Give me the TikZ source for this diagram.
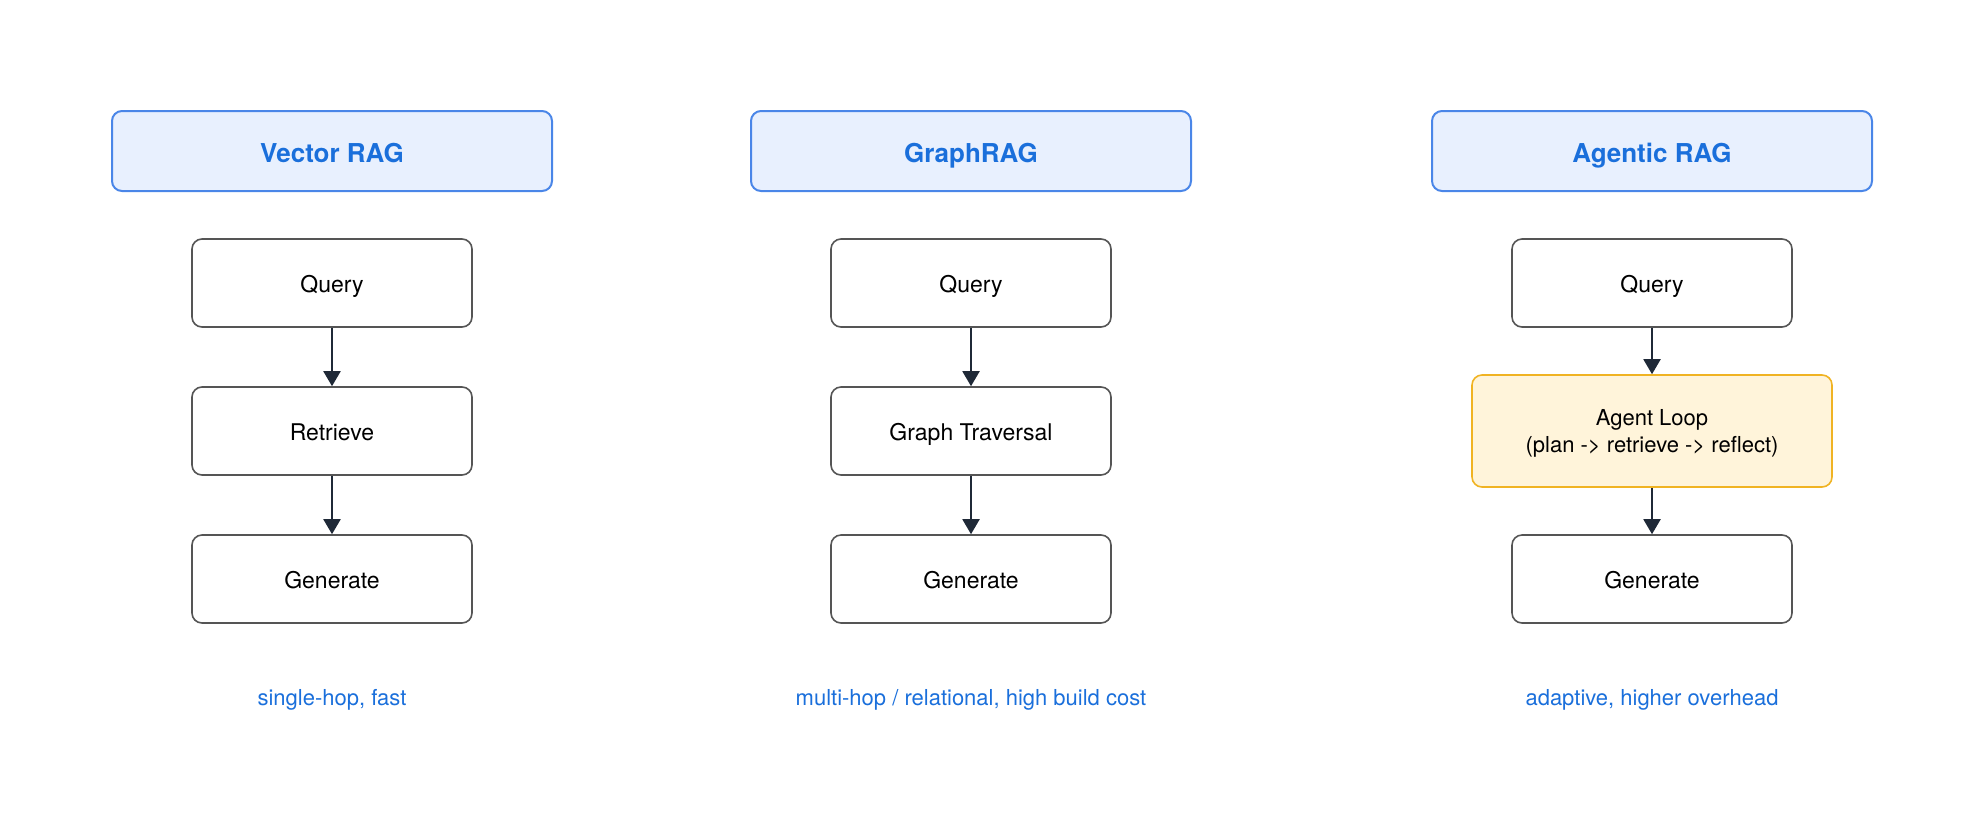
\documentclass[tikz,border=0pt]{standalone}
\usepackage{fontspec}
\setmainfont{TeX Gyre Heros}
\usetikzlibrary{arrows.meta}
\pgfdeclarelayer{bg}
\pgfsetlayers{bg,main}
\definecolor{hdrfill}{HTML}{E8F0FE}
\definecolor{hdrline}{HTML}{4A86E8}
\definecolor{hdrtext}{HTML}{1A6FDB}
\definecolor{boxline}{HTML}{555555}
\definecolor{arrowcol}{HTML}{1F2937}
\definecolor{loopfill}{HTML}{FFF4DA}
\definecolor{loopline}{HTML}{F0B323}
\tikzset{
    every node/.style={inner sep=0pt, text depth=0pt}
}
\tikzset{
    header/.style={rectangle, rounded corners=10pt, draw=hdrline, fill=hdrfill, line width=2pt,
        minimum width=440pt, minimum height=80pt, text height=23.4pt,
        text=hdrtext, font=\fontsize{26}{31}\selectfont\bfseries},
    stepbox/.style={rectangle, rounded corners=10pt, draw=boxline, fill=white, line width=1.6pt,
        minimum width=280pt, minimum height=88pt, text height=19pt, font=\fontsize{23}{28}\selectfont},
    loopbox/.style={stepbox, draw=loopline, fill=loopfill, minimum width=360pt, minimum height=112pt,
        text height=43pt, align=center, font=\fontsize{22}{27}\selectfont},
    note/.style={text=hdrtext, text height=16pt, font=\fontsize{22}{26}\selectfont},
    flow/.style={draw=arrowcol, line width=2pt, -{Triangle[length=15pt,width=17pt]}}
}
\begin{document}
\begin{tikzpicture}[x=1pt, y=-1pt]
    \useasboundingbox (0,0) rectangle (1983,820);

    \node (h1) [header] at (332, 151) {Vector RAG};
    \node (h2) [header] at (971, 151) {GraphRAG};
    \node (h3) [header] at (1652, 151) {Agentic RAG};

    \node (q1) [stepbox] at (332, 283) {Query};
    \node (r1) [stepbox] at (332, 431) {Retrieve};
    \node (g1) [stepbox] at (332, 579) {Generate};

    \node (q2) [stepbox] at (971, 283) {Query};
    \node (t2) [stepbox] at (971, 431) {Graph Traversal};
    \node (g2) [stepbox] at (971, 579) {Generate};

    \node (q3) [stepbox] at (1652, 283) {Query};
    \node (l3) [loopbox] at (1652, 431) {Agent Loop\\(plan -> retrieve -> reflect)};
    \node (g3) [stepbox] at (1652, 579) {Generate};

    \node (n1) [note] at (332, 697) {single-hop, fast};
    \node (n2) [note] at (971, 697) {multi-hop / relational, high build cost};
    \node (n3) [note] at (1652, 697) {adaptive, higher overhead};

    \begin{pgfonlayer}{bg}
        \draw (q1) edge [flow] (r1);
        \draw (r1) edge [flow] (g1);

        \draw (q2) edge [flow] (t2);
        \draw (t2) edge [flow] (g2);

        \draw (q3) edge [flow] (l3);
        \draw (l3) edge [flow] (g3);
    \end{pgfonlayer}
\end{tikzpicture}
\end{document}
